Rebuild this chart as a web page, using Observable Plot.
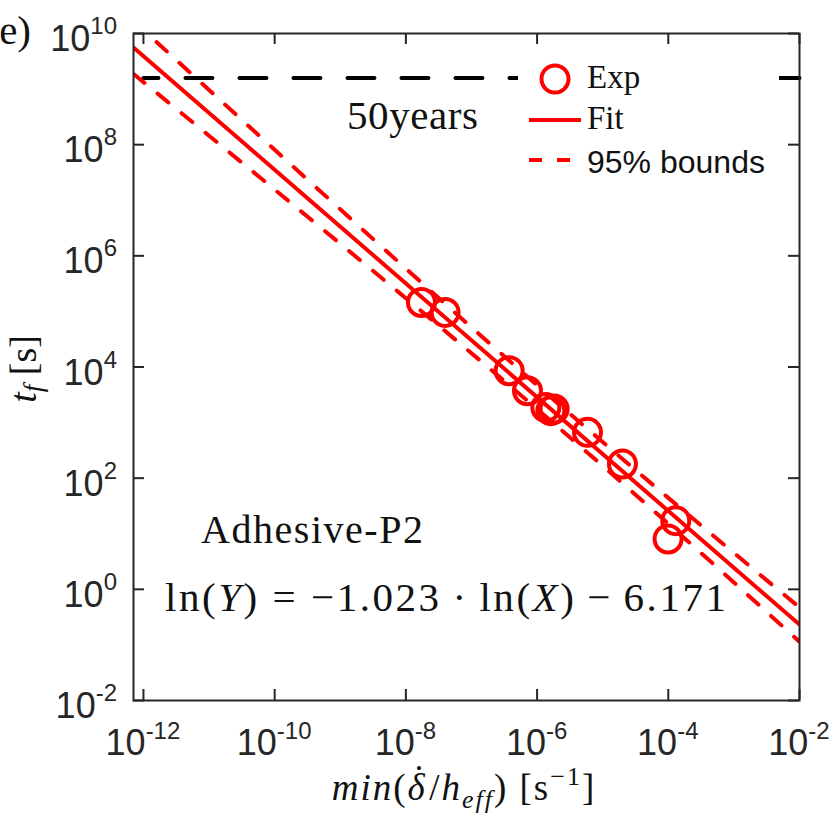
<!DOCTYPE html>
<html>
<head>
<meta charset="utf-8">
<script src="https://cdn.jsdelivr.net/npm/d3@7"></script>
<script src="https://cdn.jsdelivr.net/npm/@observablehq/plot@0.6"></script>
<style>
  html, body { margin: 0; padding: 0; background: #fff; }
  svg { display: block; }
</style>
</head>
<body>
<script>
// ---- data ----
const xTicks = [1e-12, 1e-10, 1e-8, 1e-6, 1e-4, 1e-2];
const yTicks = [1e-2, 1e0, 1e2, 1e4, 1e6, 1e8, 1e10];

// experimental points (Exp)
const expX = [1.73e-8, 3.96e-8, 3.75e-7, 7.14e-7, 1.36e-6, 1.62e-6, 1.82e-6, 5.87e-6, 2.0e-5, 1.30e-4, 9.93e-5];
const expY = [1.45e5, 9.6e4, 8.57e3, 3.75e3, 1.87e3, 1.64e3, 1.76e3, 667, 180, 17.2, 8.05];

// fitted line endpoints (Fit)
const fitX = [7.05e-13, 1e-2];
const fitY = [5.61e9, 0.232];

// 95% bounds, read at several x
const boundX = [7.05e-13, 1e-11, 1e-10, 1e-9, 1e-8, 1e-7, 1e-6, 1e-5, 1e-4, 1e-3, 1e-2];
const boundUpper = [1.68e10, 9.64e8, 8.09e7, 6.86e6, 5.89e5, 5.18e4, 4.71e3, 447, 44.2, 4.52, 0.473];
const boundLower = [1.875e9, 1.45e8, 1.556e7, 1.65e6, 1.73e5, 1.77e4, 1.75e3, 166, 15.1, 1.33, 0.114];

// 50 years reference line
const fiftyX = [1e-12, 1e-2];
const fiftyY = 1.578e9;

// ---- tables ----
const expRows = expX.map((x, i) => ({x, y: expY[i]}));
const fitRows = fitX.map((x, i) => ({x, y: fitY[i]}));
const boundRows = boundX.map((x, i) => ({x, upper: boundUpper[i], lower: boundLower[i]}));
const fiftyRows = fiftyX.map(x => ({x, y: fiftyY}));

const RED = "#ff0000";
const AX = "#262626";
const sans = "Liberation Sans, Arial, Helvetica, sans-serif";
const serif = "Liberation Serif, Times New Roman, serif";

const W = 830, H = 814, mL = 133, mR = 31, mT = 33, mB = 114;
const fw = W - mL - mR, fh = H - mT - mB;
const tk = 11;

const chart = Plot.plot({
  width: W, height: H,
  marginLeft: mL, marginRight: mR, marginTop: mT, marginBottom: mB,
  x: {type: "log", domain: [7.05e-13, 1e-2], axis: null},
  y: {type: "log", domain: [1e-2, 1e10], axis: null},
  marks: [
    Plot.line(fiftyRows, {x: "x", y: "y", stroke: "black", strokeWidth: 4, strokeDasharray: "27,27", strokeDashoffset: 12}),
    Plot.line(boundRows, {x: "x", y: "upper", curve: "natural", stroke: RED, strokeWidth: 4, strokeDasharray: "14,17", clip: true}),
    Plot.line(boundRows, {x: "x", y: "lower", curve: "natural", stroke: RED, strokeWidth: 4, strokeDasharray: "14,17", clip: true}),
    Plot.line(fitRows, {x: "x", y: "y", stroke: RED, strokeWidth: 4, clip: true}),
    Plot.dot(expRows, {x: "x", y: "y", r: 13.5, stroke: RED, strokeWidth: 4, fill: "none"}),
    // inward ticks on all four sides
    Plot.ruleX(xTicks, {x: d => d, insetTop: fh - tk, stroke: AX, strokeWidth: 2}),
    Plot.ruleX(xTicks, {x: d => d, insetBottom: fh - tk, stroke: AX, strokeWidth: 2}),
    Plot.ruleY(yTicks, {y: d => d, insetRight: fw - tk, stroke: AX, strokeWidth: 2}),
    Plot.ruleY(yTicks, {y: d => d, insetLeft: fw - tk, stroke: AX, strokeWidth: 2}),
    Plot.frame({stroke: AX, strokeWidth: 2})
  ]
});
document.body.appendChild(chart);

const svg = d3.select(chart);
const sx = chart.scale("x"), sy = chart.scale("y");

function txt(parent, x, y, anchor, family, size) {
  return parent.append("text").attr("x", x).attr("y", y)
    .attr("text-anchor", anchor).attr("font-family", family).attr("font-size", size)
    .attr("fill", "#111");
}

// ---- tick labels (10 with superscript exponent) ----
const tl = svg.append("g");
xTicks.forEach(v => {
  const e = Math.round(Math.log10(v));
  const t = txt(tl, sx.apply(v), 755, "middle", sans, 36).attr("fill", AX);
  t.append("tspan").text("10");
  t.append("tspan").attr("dy", -16).attr("font-size", 24).text(String(e));
});
yTicks.forEach(v => {
  const e = Math.round(Math.log10(v));
  const t = txt(tl, mL - 16, sy.apply(v) + 18, "end", sans, 36).attr("fill", AX);
  t.append("tspan").text("10");
  t.append("tspan").attr("dy", -17).attr("font-size", 24).text(String(e));
});

// ---- axis titles ----
const yl = txt(svg, 0, 0, "middle", serif, 38).attr("transform", "translate(36,369) rotate(-90)");
yl.append("tspan").attr("font-style", "italic").text("t");
yl.append("tspan").attr("font-style", "italic").attr("font-size", 27).attr("dy", 6).text("f");
yl.append("tspan").attr("dy", -6).text("\u00a0[s]");

const xl = txt(svg, 464, 800, "middle", serif, 37).attr("letter-spacing", 2);
xl.append("tspan").attr("font-style", "italic").text("min");
xl.append("tspan").text("(");
xl.append("tspan").attr("font-style", "italic").text("\u03b4");
xl.append("tspan").attr("dx", -14).attr("dy", -9).text("\u02d9");
xl.append("tspan").attr("dx", 2).attr("dy", 9).text("/");
xl.append("tspan").attr("font-style", "italic").text("h");
xl.append("tspan").attr("font-style", "italic").attr("font-size", 26).attr("dy", 8).text("eff");
xl.append("tspan").attr("dy", -8).text(")\u00a0[s");
xl.append("tspan").attr("font-size", 26).attr("dy", -15).text("\u22121");
xl.append("tspan").attr("dy", 15).text("]");

// ---- annotations ----
txt(svg, 31, 44, "end", serif, 41).text("e)");
txt(svg, 347, 129, "start", serif, 41)
  .attr("textLength", 131).attr("lengthAdjust", "spacing").text("50years");
txt(svg, 201, 543, "start", serif, 40)
  .attr("textLength", 222).attr("lengthAdjust", "spacing").text("Adhesive-P2");
const eq = txt(svg, 165, 611, "start", serif, 41)
  .attr("textLength", 561).attr("lengthAdjust", "spacing");
eq.append("tspan").text("ln(");
eq.append("tspan").attr("font-style", "italic").text("Y");
eq.append("tspan").text(")\u00a0=\u00a0\u22121.023\u2009\u00b7\u2009ln(");
eq.append("tspan").attr("font-style", "italic").text("X");
eq.append("tspan").text(")\u2009\u2212\u20096.171");

// ---- legend ----
const lg = svg.append("g");
lg.append("rect").attr("x", 518).attr("y", 46).attr("width", 261).attr("height", 142).attr("fill", "white");
lg.append("circle").attr("cx", 555).attr("cy", 79).attr("r", 13.5)
  .attr("fill", "none").attr("stroke", RED).attr("stroke-width", 4);
txt(lg, 587, 88, "start", serif, 33).text("Exp");
lg.append("line").attr("x1", 529).attr("x2", 581).attr("y1", 120).attr("y2", 120)
  .attr("stroke", RED).attr("stroke-width", 4);
txt(lg, 587, 129, "start", serif, 33).text("Fit");
lg.append("line").attr("x1", 529).attr("x2", 581).attr("y1", 160).attr("y2", 160)
  .attr("stroke", RED).attr("stroke-width", 4).attr("stroke-dasharray", "13,15");
txt(lg, 587, 172.5, "start", sans, 32).text("95% bounds");
</script>
</body>
</html>
